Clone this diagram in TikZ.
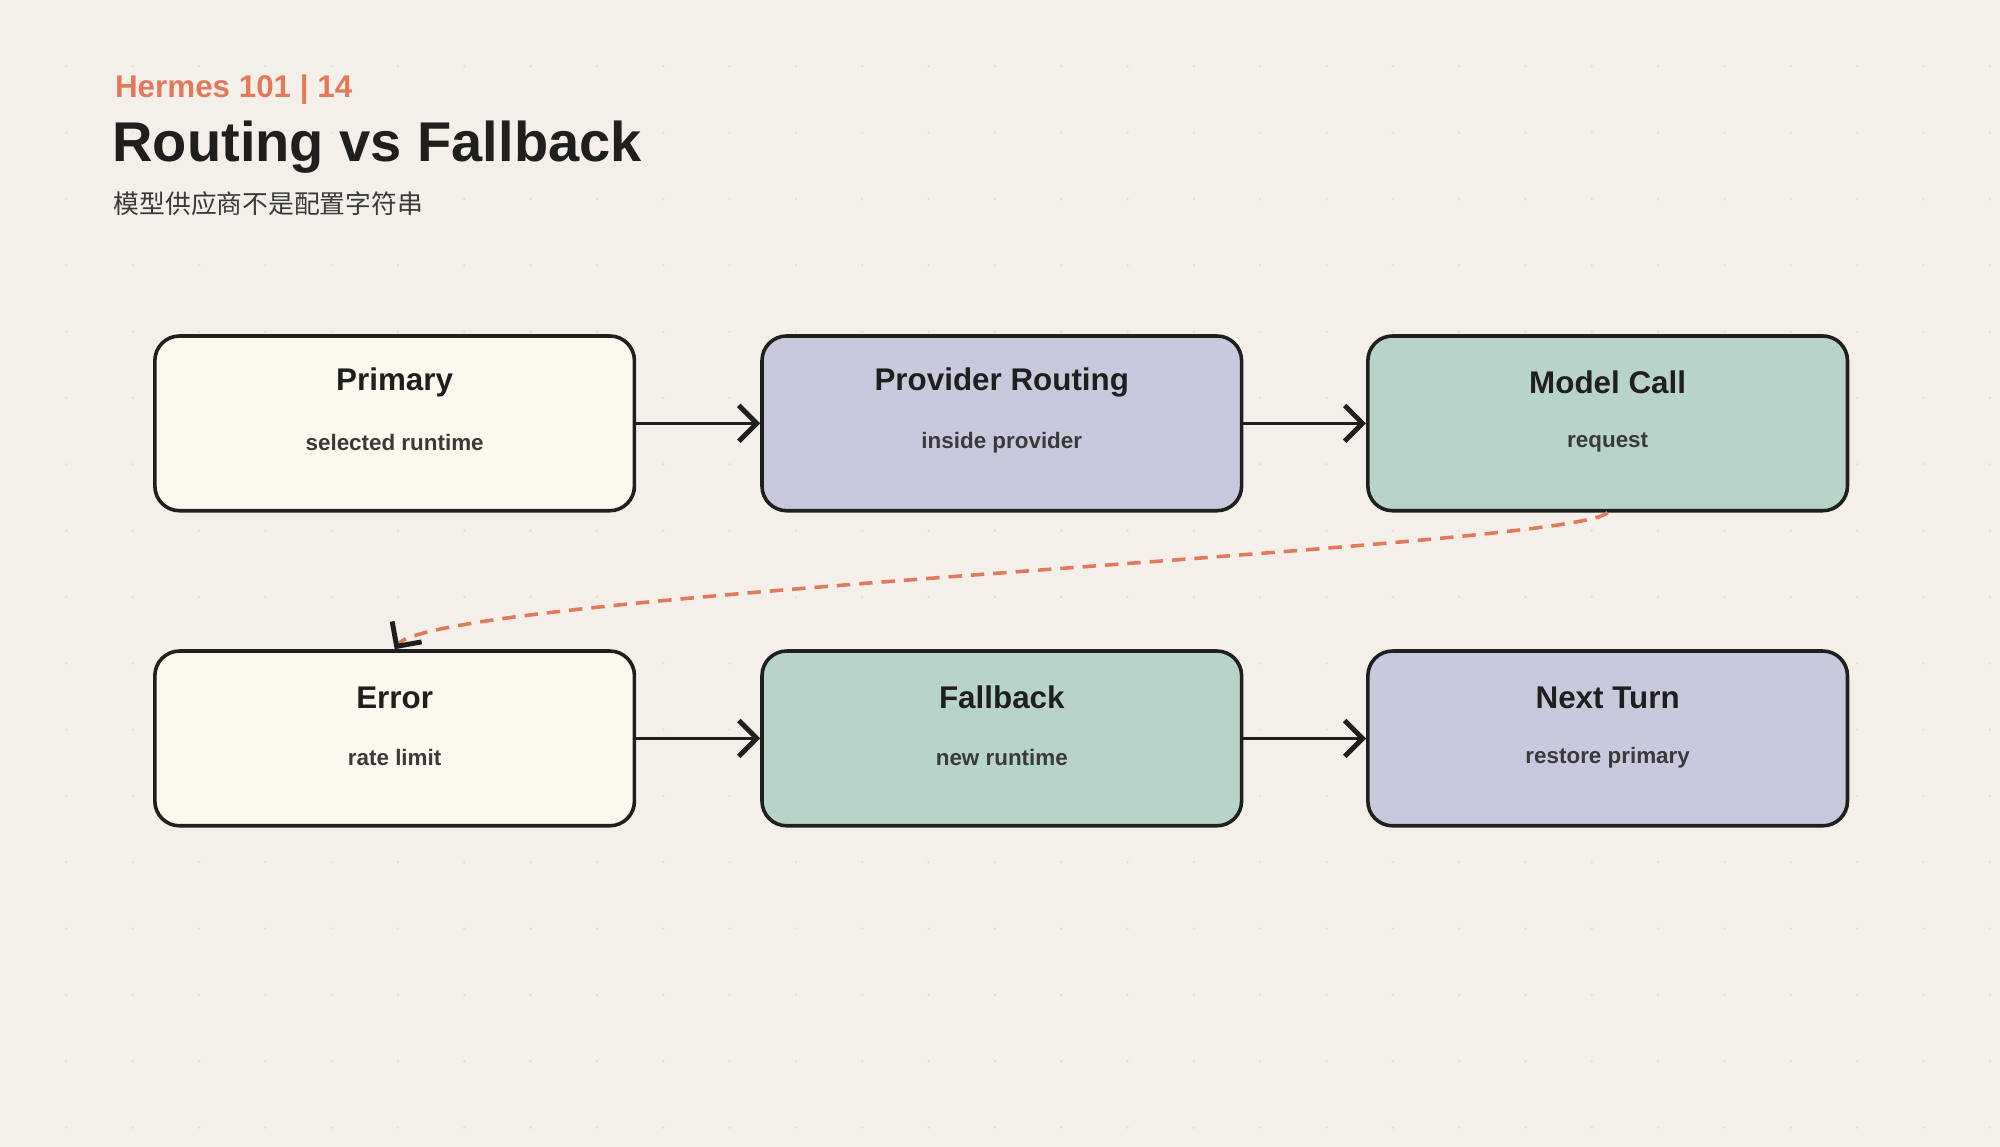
\documentclass[tikz,border=0pt]{standalone}
\usepackage{fontspec}
\setmainfont{Liberation Sans}
\newfontfamily\cjk{Noto Sans CJK SC}
\usetikzlibrary{arrows.meta}
\definecolor{bg}{HTML}{F4F0E9}
\definecolor{cream}{HTML}{FDF8EE}
\definecolor{lav}{HTML}{C8C9DD}
\definecolor{mint}{HTML}{B8D4C9}
\definecolor{org}{HTML}{E07A5C}
\definecolor{ink}{HTML}{1F1F1F}
\definecolor{sub}{HTML}{3A3A3A}
\begin{document}
\begin{tikzpicture}[x=0.02cm,y=-0.02cm,
 box/.style={draw=ink,line width=1.6pt,rounded corners=11pt,minimum width=376*0.02cm,minimum height=137*0.02cm,anchor=north west,inner sep=0pt},
 ttl/.style={font=\fontsize{14}{16}\selectfont\bfseries,text=ink},
 sbt/.style={font=\fontsize{10}{12}\selectfont\bfseries,text=sub},
 arr/.style={draw=ink,line width=1.6pt,-{Straight Barb[length=8pt,width=16pt,line width=2.2pt]}}]
\fill[bg] (0,0) rectangle (1568,899);
\foreach \i in {1,...,30}{\foreach \j in {1,...,17}{\fill[black!12] (\i*52,\j*52) circle (0.6pt);}}
\node[anchor=west,text=org,font=\fontsize{14}{16}\selectfont\bfseries] (k) at (84,70) {Hermes 101 | 14};
\node[anchor=west,text=ink,font=\fontsize{25}{28}\selectfont\bfseries] (t) at (82,115) {Routing vs Fallback};
\node[anchor=west,text=sub,font=\cjk\fontsize{11.5}{13}\selectfont] (s) at (83,160) {模型供应商不是配置字符串};
\foreach \n/\x/\y/\c/\a/\b in {p/120/262/cream/Primary/selected runtime, r/596/262/lav/Provider Routing/inside provider, m/1071/262/mint/Model Call/request, e/120/509/cream/Error/rate limit / 5xx, f/596/509/mint/Fallback/new runtime, n/1071/509/lav/Next Turn/restore primary}{
 \node[box,fill=\c] (\n) at (\x,\y) {};
 \node[ttl] (\n t) at ([yshift=-38*0.02cm]\n.north) {\a};
 \node[sbt] (\n s) at ([yshift=-85*0.02cm]\n.north) {\b};
}
\draw[arr] (p) -- (r);
\draw[arr] (r) -- (m);
\draw[arr] (e) -- (f);
\draw[arr] (f) -- (n);
\draw[draw=org,line width=1.6pt,dash pattern=on 6pt off 4pt,-{Straight Barb[length=8pt,width=16pt,line width=2.2pt,color=ink]}] (m.south) .. controls (1235,430) and (340,465) .. (e.north);
\end{tikzpicture}
\end{document}
